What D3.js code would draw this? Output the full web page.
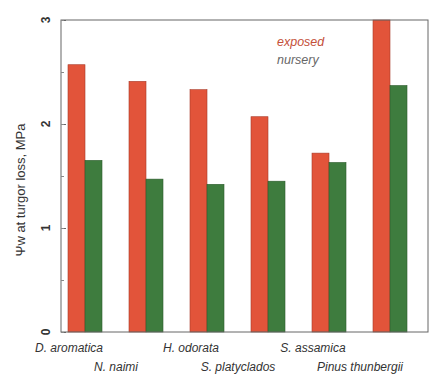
<!DOCTYPE html>
<html><head><meta charset="utf-8">
<script src="https://cdn.jsdelivr.net/npm/d3@7"></script>
<style>body{margin:0;background:#fff}svg{display:block}text{font-family:"Liberation Sans",Arial,sans-serif}</style>
</head><body><svg id="c" width="447" height="385"></svg>
<script>
const categories = ["D. aromatica","N. naimi","H. odorata","S. platyclados","S. assamica","Pinus thunbergii"];
const exposed = [2.57, 2.41, 2.33, 2.07, 1.72, 3.0];
const nursery = [1.65, 1.47, 1.42, 1.45, 1.63, 2.37];
const seriesNames = ["exposed","nursery"];
const yTicks = [0,1,2,3];

const svg = d3.select("#c");
const m = {l:61, r:19, t:20, b:53};
const W = 447, H = 385;
const x = d3.scalePoint().domain(categories).range([85, 390]);
const y = d3.scaleLinear().domain([0,3]).range([H-m.b, m.t]);
const bw = 17;
const colors = {exposed:"#e2543a", nursery:"#3e7c3e"};
const strokes = {exposed:"#a83a28", nursery:"#2c5a2c"};

// bars
const g = svg.append("g");
g.selectAll("rect.e").data(categories).join("rect")
  .attr("x", d => x(d) - bw).attr("width", bw)
  .attr("y", (d,i) => y(exposed[i])).attr("height", (d,i) => y(0) - y(exposed[i]))
  .attr("fill", colors.exposed).attr("stroke", strokes.exposed).attr("stroke-width", 0.6);
g.selectAll("rect.n").data(categories).join("rect")
  .attr("x", d => x(d)).attr("width", bw)
  .attr("y", (d,i) => y(nursery[i])).attr("height", (d,i) => y(0) - y(nursery[i]))
  .attr("fill", colors.nursery).attr("stroke", strokes.nursery).attr("stroke-width", 0.6);

// frame
svg.append("rect").attr("x", m.l).attr("y", m.t).attr("width", W-m.l-m.r).attr("height", H-m.t-m.b)
  .attr("fill","none").attr("stroke","#666").attr("stroke-width",1);

// y axis ticks (inward) and rotated labels
const ya = svg.append("g").attr("transform", `translate(${m.l},0)`)
  .call(d3.axisRight(y).tickValues(yTicks).tickSize(5).tickFormat(""));
ya.select(".domain").remove();
ya.selectAll("line").attr("stroke","#666");
const yam = svg.append("g").attr("transform", `translate(${m.l},0)`)
  .call(d3.axisRight(y).tickValues(d3.range(0,3.01,0.5)).tickSize(3).tickFormat(""));
yam.select(".domain").remove();
yam.selectAll("line").attr("stroke","#888");
svg.selectAll("text.yt").data(yTicks).join("text").attr("class","yt")
  .attr("transform", d => `translate(50,${y(d)}) rotate(-90)`)
  .attr("text-anchor","middle").attr("font-size",12).attr("font-weight","bold").attr("fill","#333")
  .text(d => d);

// y title
svg.append("text").attr("transform", `translate(25,${(m.t+H-m.b)/2+14}) rotate(-90)`)
  .attr("text-anchor","middle").attr("font-size",13).attr("fill","#333")
  .text("Ψw at turgor loss, MPa");

// category labels, staggered
svg.selectAll("text.cat").data(categories).join("text").attr("class","cat")
  .attr("x", (d,i) => x(d) - (i % 2 === 0 ? 16 : 30))
  .attr("y", (d,i) => i % 2 === 0 ? 352 : 371)
  .attr("text-anchor","middle").attr("font-size",12).attr("font-style","italic").attr("fill","#333")
  .text(d => d);

// legend
const legColors = {exposed:"#c4503a", nursery:"#666"};
svg.selectAll("text.leg").data(seriesNames).join("text").attr("class","leg")
  .attr("x", 277).attr("y", (d,i) => 46 + i*18)
  .attr("font-size",12.5).attr("font-style","italic").attr("fill", d => legColors[d])
  .text(d => d);
</script></body></html>
